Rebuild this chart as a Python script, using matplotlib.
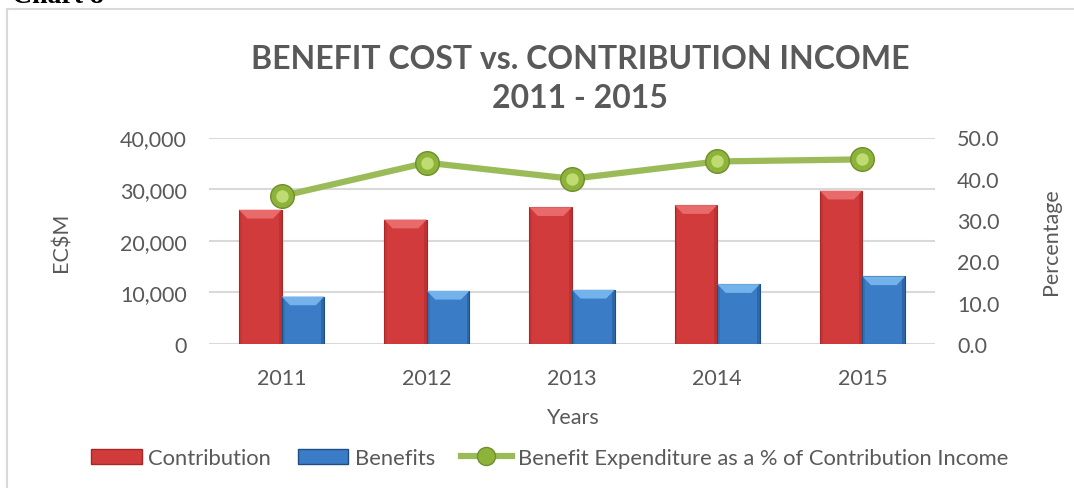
import matplotlib
matplotlib.use("Agg")
import matplotlib.pyplot as plt
from matplotlib.patches import Polygon, Rectangle, Patch
from matplotlib.lines import Line2D
import numpy as np

years = ["2011", "2012", "2013", "2014", "2015"]
contribution = [26000, 24100, 26500, 26900, 29700]
benefits = [9200, 10300, 10500, 11600, 13100]
pct = [35.8, 43.9, 40.0, 44.2, 44.7]

left_ticks = [0, 10000, 20000, 30000, 40000]
right_ticks = [0, 10, 20, 30, 40, 50]

title = "BENEFIT COST vs. CONTRIBUTION INCOME\n2011 - 2015"
series_names = ["Contribution", "Benefits", "Benefit Expenditure as a % of Contribution Income"]

TXT = "#595959"
FONT = "Lato"
plt.rcParams["font.family"] = [FONT, "DejaVu Sans"]

fig = plt.figure(figsize=(10.74, 4.89), dpi=100)
fig.patch.set_facecolor("white")

ax = fig.add_axes([209 / 1074, 1 - 345 / 489, (935 - 209) / 1074, (345 - 138.5) / 489])
ax2 = ax.twinx()

x = np.arange(len(years))
w = 0.294

red = "#D13B3B"
red_top = "#E86A6A"
red_dark = "#A82828"
blue = "#3A7DC6"
blue_top = "#74B2EC"
blue_dark = "#1F4E85"


def bevel_bars(axis, xs, vals, face, top, dark):
    bars = axis.bar(xs, vals, w, color=face, edgecolor=dark, linewidth=0.8, zorder=3)
    dx = w * 0.2
    dy = 1700
    for b in bars:
        x0 = b.get_x()
        x1 = x0 + b.get_width()
        h = b.get_height()
        axis.add_patch(Polygon([(x0, h), (x1, h), (x1 - dx, h - dy), (x0 + dx, h - dy)],
                               closed=True, facecolor=top, edgecolor="none", zorder=4))
        axis.add_patch(Polygon([(x1, h), (x1, 0), (x1 - dx * 0.35, 0), (x1 - dx * 0.35, h - dy * 0.4)],
                               closed=True, facecolor=dark, edgecolor="none", alpha=0.45, zorder=4))
        axis.add_patch(Polygon([(x0, h), (x0, 0), (x0 + dx * 0.35, 0), (x0 + dx * 0.35, h - dy * 0.4)],
                               closed=True, facecolor=dark, edgecolor="none", alpha=0.25, zorder=4))
    return bars


bevel_bars(ax, x - w / 2, contribution, red, red_top, red_dark)
bevel_bars(ax, x + w / 2, benefits, blue, blue_top, blue_dark)

ax.set_xlim(-0.5, len(years) - 0.5)
ax.set_ylim(0, 40000)
ax.set_yticks(left_ticks)
ax.set_yticklabels([f"{v:,}" for v in left_ticks])
ax.set_xticks(x)
ax.set_xticklabels(years)
ax.grid(axis="y", color="#D9D9D9", linewidth=1.5, zorder=0)
ax.set_axisbelow(True)
for s in ax.spines.values():
    s.set_visible(False)
ax.tick_params(axis="y", length=0, labelsize=15.5, colors=TXT, pad=16)
ax.tick_params(axis="x", length=0, labelsize=15.5, colors=TXT, pad=17)

green = "#9BBB59"
ax2.plot(x, pct, color=green, linewidth=4.5, zorder=5, solid_capstyle="round")
ax2.plot(x, pct, linestyle="none", marker="o", markersize=17, markerfacecolor="#8DB33A",
         markeredgecolor="#6E8F2A", markeredgewidth=1.0, zorder=6)
ax2.plot(x, pct, linestyle="none", marker="o", markersize=9, markerfacecolor="#BEDC72",
         markeredgecolor="none", zorder=7)
ax2.set_ylim(0, 50)
ax2.set_yticks(right_ticks)
ax2.set_yticklabels([f"{v:.1f}" for v in right_ticks])
for s in ax2.spines.values():
    s.set_visible(False)
ax2.tick_params(axis="both", length=0, labelsize=15.5, colors=TXT, pad=16)

fig.text(62 / 1074, 1 - 242 / 489, "EC$M", rotation=90, ha="center", va="center", fontsize=15.5, color=TXT)
fig.text(1051 / 1074, 1 - 242 / 489, "Percentage", rotation=90, ha="center", va="center", fontsize=15.5, color=TXT)
fig.text(572 / 1074, 1 - 418 / 489, "Years", ha="center", va="center", fontsize=15.5, color=TXT)

fig.text(580 / 1074, 1 - 79 / 489, title, ha="center", va="center", fontsize=23, fontweight="bold",
         color=TXT, linespacing=1.45)

handles = [
    Patch(facecolor=red, edgecolor=red_dark),
    Patch(facecolor=blue, edgecolor=blue_dark),
    Line2D([0], [0], color=green, linewidth=4.5, marker="o", markersize=13,
           markerfacecolor="#8DB33A", markeredgecolor="#6E8F2A"),
]
fig.legend(handles, series_names, loc="center", bbox_to_anchor=(550 / 1074, 1 - 459 / 489),
           ncol=3, frameon=False, fontsize=15.8, labelcolor=TXT, handlelength=2.3,
           handleheight=0.7, handletextpad=0.3, columnspacing=1.2)

fig.patches.append(Rectangle((7 / 1074, -0.1), 1.2, 1 - 10 / 489 + 0.1, transform=fig.transFigure,
                             fill=False, edgecolor="#D9D9D9", linewidth=1.5))
fig.text(12 / 1074, 1 - 3 / 489, "Chart 8", ha="left", va="baseline", fontsize=20,
         fontweight="bold", family="Liberation Serif", color="black")

fig.savefig("out.png", dpi=100, facecolor="white")
